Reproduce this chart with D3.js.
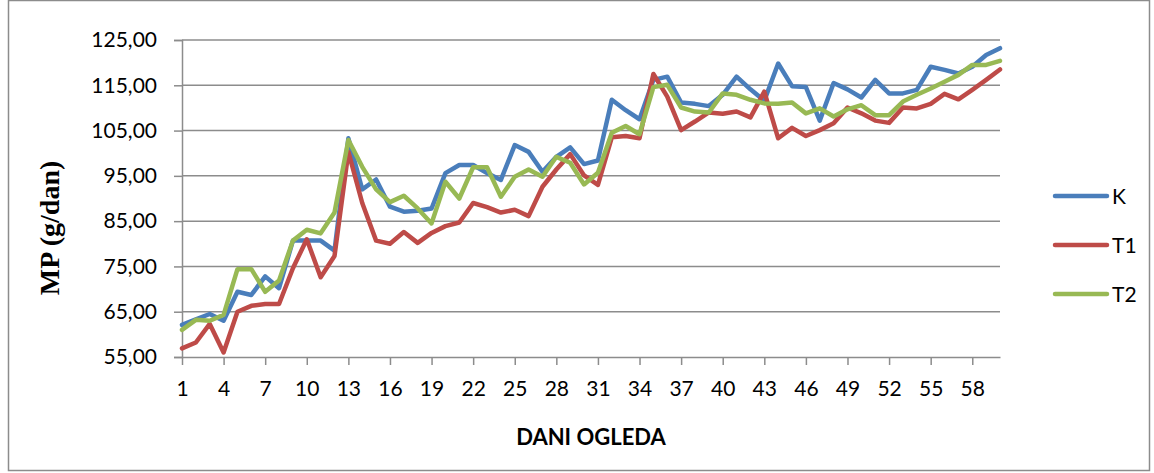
<!DOCTYPE html>
<html lang="en">
<meta charset="utf-8">
<title>MP (g/dan)</title>
<script src="https://d3js.org/d3.v7.min.js"></script>
<style>
  body { margin: 0; background: #fff; }
  text { font-family: Lato, "Open Sans", sans-serif; fill: #000; }
</style>
<svg width="1154" height="473"></svg>
<script>
// categories: days of the trial
var days = d3.range(1, 61);
var seriesNames = ["K", "T1", "T2"];
var seriesColors = ["#4a7ebb", "#be4b48", "#98b954"];
var yTicks = [55, 65, 75, 85, 95, 105, 115, 125];
var xTicks = [1, 4, 7, 10, 13, 16, 19, 22, 25, 28, 31, 34, 37, 40, 43, 46, 49, 52, 55, 58];

var valuesK = [62.1, 63.3, 64.5, 63.0, 69.4, 68.7, 72.8, 70.2, 80.7, 80.7,
               80.7, 78.5, 103.3, 92.0, 94.2, 88.2, 87.1, 87.3, 87.8, 95.6,
               97.4, 97.4, 95.6, 94.1, 101.8, 100.3, 95.9, 99.2, 101.3, 97.6,
               98.4, 111.8, 109.5, 107.5, 116.2, 116.9, 111.2, 110.9, 110.4, 112.9,
               116.9, 114.1, 111.6, 119.8, 114.8, 114.6, 107.2, 115.5, 114.1, 112.3,
               116.2, 113.2, 113.2, 114.0, 119.1, 118.4, 117.6, 119.1, 121.7, 123.2];
var valuesT1 = [56.9, 58.2, 62.3, 56.0, 65.0, 66.3, 66.7, 66.7, 74.6, 81.0,
                72.6, 77.3, 100.3, 89.0, 80.7, 80.0, 82.6, 80.2, 82.4, 83.9,
                84.7, 89.0, 88.1, 86.9, 87.5, 86.1, 92.6, 96.4, 99.8, 95.1,
                93.0, 103.5, 103.8, 103.3, 117.5, 112.5, 105.1, 107.0, 109.0, 108.7,
                109.2, 107.9, 113.6, 103.3, 105.6, 103.8, 105.1, 106.6, 110.1, 108.8,
                107.2, 106.7, 110.1, 109.9, 110.9, 113.1, 111.9, 114.0, 116.2, 118.5];
var valuesT2 = [61.0, 63.2, 63.0, 64.3, 74.4, 74.4, 69.4, 71.9, 80.7, 83.1,
                82.3, 86.9, 102.9, 97.0, 92.0, 89.2, 90.6, 87.8, 84.5, 93.7,
                90.0, 96.9, 96.9, 90.4, 94.8, 96.4, 94.8, 99.2, 97.9, 93.1,
                95.7, 104.5, 106.0, 104.2, 114.6, 115.1, 110.1, 109.2, 109.0, 113.2,
                112.9, 111.8, 111.0, 110.9, 111.2, 108.8, 109.9, 108.1, 109.7, 110.6,
                108.4, 108.4, 111.4, 112.9, 114.3, 115.8, 117.3, 119.5, 119.5, 120.4];
var seriesValues = [valuesK, valuesT1, valuesT2];

var svg = d3.select("svg");

// outer chart frame
svg.append("rect")
    .attr("x", 8.5).attr("y", 0.5)
    .attr("width", 1141).attr("height", 470)
    .attr("fill", "none")
    .attr("stroke", "#8c8c8c")
    .attr("stroke-width", 1.5);

var x = d3.scaleLinear().domain([1, 60]).range([182, 1000]);
var y = d3.scaleLinear().domain([55, 125]).range([357, 40]);

var fmt = d3.formatLocale({decimal: ",", thousands: ".", grouping: [3], currency: ["", ""]}).format(".2f");

// horizontal gridlines
svg.append("g")
    .selectAll("line")
    .data(yTicks.slice(1))
    .enter().append("line")
      .attr("x1", x(1)).attr("x2", x(60))
      .attr("y1", function(d) { return y(d); })
      .attr("y2", function(d) { return y(d); })
      .attr("stroke", "#8c8c8c")
      .attr("stroke-width", 1.5);

// y axis
var yAxis = svg.append("g")
    .attr("transform", "translate(" + x(1) + ",0)")
    .call(d3.axisLeft(y).tickValues(yTicks).tickFormat(fmt).tickSize(8).tickPadding(17));
yAxis.select(".domain").attr("stroke", "#8c8c8c").attr("stroke-width", 1.5);
yAxis.selectAll(".tick line").attr("stroke", "#8c8c8c").attr("stroke-width", 1.5);
yAxis.selectAll(".tick text")
    .style("font-size", "21px")
    .attr("fill", "#000");

// x axis
var xAxis = svg.append("g")
    .attr("transform", "translate(0," + y(55) + ")")
    .call(d3.axisBottom(x).tickValues(xTicks).tickFormat(d3.format("d")).tickSize(8).tickSizeOuter(0).tickPadding(16));
xAxis.select(".domain").attr("stroke", "#8c8c8c").attr("stroke-width", 1.5);
xAxis.selectAll(".tick line").attr("stroke", "#8c8c8c").attr("stroke-width", 1.5);
xAxis.selectAll(".tick text")
    .style("font-size", "21px")
    .attr("fill", "#000");

// lines
var line = d3.line()
    .x(function(d, i) { return x(days[i]); })
    .y(function(d) { return y(d); });

svg.append("g")
    .selectAll("path")
    .data(seriesValues)
    .enter().append("path")
      .attr("d", line)
      .attr("fill", "none")
      .attr("stroke", function(d, i) { return seriesColors[i]; })
      .attr("stroke-width", 4.5)
      .attr("stroke-linejoin", "round")
      .attr("stroke-linecap", "round");

// axis titles
svg.append("text")
    .attr("x", 591)
    .attr("y", 445)
    .attr("text-anchor", "middle")
    .style("font-size", "22px")
    .style("font-weight", "bold")
    .text("DANI OGLEDA");

svg.append("text")
    .attr("transform", "translate(59,228) rotate(-90)")
    .attr("text-anchor", "middle")
    .style("font-family", "'Liberation Serif', 'Times New Roman', serif")
    .style("font-size", "28px")
    .style("font-weight", "bold")
    .text("MP (g/dan)");

// legend
var legend = svg.append("g")
    .selectAll("g")
    .data(seriesNames)
    .enter().append("g")
      .attr("transform", function(d, i) { return "translate(0," + (196 + i * 49) + ")"; });

legend.append("line")
    .attr("x1", 1055).attr("x2", 1107)
    .attr("stroke", function(d, i) { return seriesColors[i]; })
    .attr("stroke-width", 4.5)
    .attr("stroke-linecap", "round");

legend.append("text")
    .attr("x", 1112)
    .attr("dy", "0.36em")
    .style("font-size", "21px")
    .text(function(d) { return d; });
</script>
</html>
